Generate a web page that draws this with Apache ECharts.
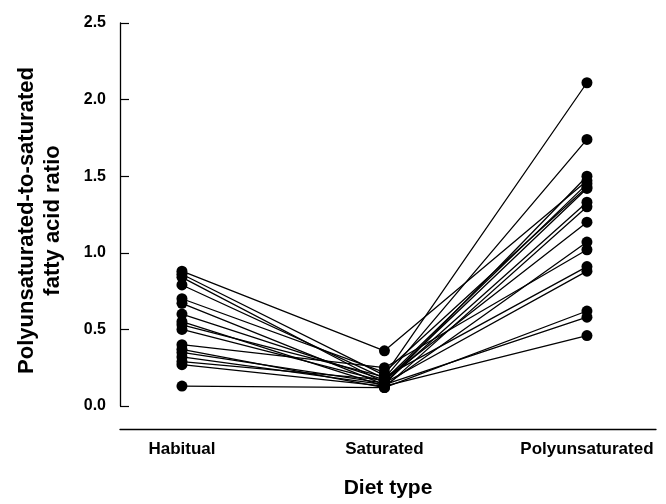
<!DOCTYPE html>
<html>
<head>
<meta charset="utf-8">
<script src="https://cdn.jsdelivr.net/npm/echarts@6/dist/echarts.min.js"></script>
<style>html,body{margin:0;padding:0;background:#fff}#c{width:666px;height:504px}</style>
</head>
<body>
<div id="c"></div>
<script>
const categories = ['Habitual', 'Saturated', 'Polyunsaturated'];
const habitual =        [0.88, 0.86, 0.84, 0.79, 0.70, 0.67, 0.60, 0.55, 0.53, 0.50, 0.40, 0.37, 0.35, 0.32, 0.29, 0.27, 0.13];
const saturated =       [0.36, 0.20, 0.15, 0.18, 0.22, 0.14, 0.17, 0.13, 0.19, 0.16, 0.25, 0.12, 0.15, 0.14, 0.17, 0.13, 0.12];
const polyunsaturated = [1.47, 2.11, 1.33, 1.74, 1.43, 1.50, 1.20, 1.07, 0.91, 1.42, 1.02, 0.62, 0.88, 0.58, 1.45, 0.46, 1.30];
const yTicks = [0, 0.5, 1.0, 1.5, 2.0, 2.5];

const series = habitual.map((h, i) => ({
  type: 'line',
  data: [[0, h], [1, saturated[i]], [2, polyunsaturated[i]]],
  symbol: 'circle',
  symbolSize: 11,
  lineStyle: { color: '#000', width: 1.3 },
  itemStyle: { color: '#000' },
  animation: false,
  silent: true
}));

const font = 'Liberation Sans, Arial, Helvetica';
const chart = echarts.init(document.getElementById('c'));
chart.setOption({
  backgroundColor: '#fff',
  grid: { left: 120, right: 10, top: 23, bottom: 97 },
  xAxis: {
    type: 'value',
    min: -0.306,
    max: 2.341,
    offset: 23,
    axisLine: { onZero: false, lineStyle: { color: '#000', width: 1.3 } },
    axisTick: { show: false },
    splitLine: { show: false },
    axisLabel: {
      customValues: [0, 1, 2],
      formatter: v => categories[Math.round(v)],
      color: '#000', fontFamily: font, fontWeight: 'bold', fontSize: 17, margin: 12
    },
    name: 'Diet type',
    nameLocation: 'middle',
    nameGap: 49,
    nameTextStyle: { color: '#000', fontFamily: font, fontWeight: 'bold', fontSize: 21 }
  },
  yAxis: {
    type: 'value',
    min: 0,
    max: 2.5,
    interval: 0.5,
    axisLine: { onZero: false, lineStyle: { color: '#000', width: 1.3 } },
    axisTick: { inside: true, length: 9, lineStyle: { color: '#000', width: 1.2 } },
    splitLine: { show: false },
    axisLabel: {
      formatter: v => v.toFixed(1),
      color: '#000', fontFamily: font, fontWeight: 'bold', fontSize: 16, margin: 14
    },
    name: 'Polyunsaturated-to-saturated\nfatty acid ratio',
    nameLocation: 'middle',
    nameGap: 54,
    nameTextStyle: { color: '#000', fontFamily: font, fontWeight: 'bold', fontSize: 22, lineHeight: 26, padding: [0, 12, 0, 0] }
  },
  series: series
});
</script>
</body>
</html>
